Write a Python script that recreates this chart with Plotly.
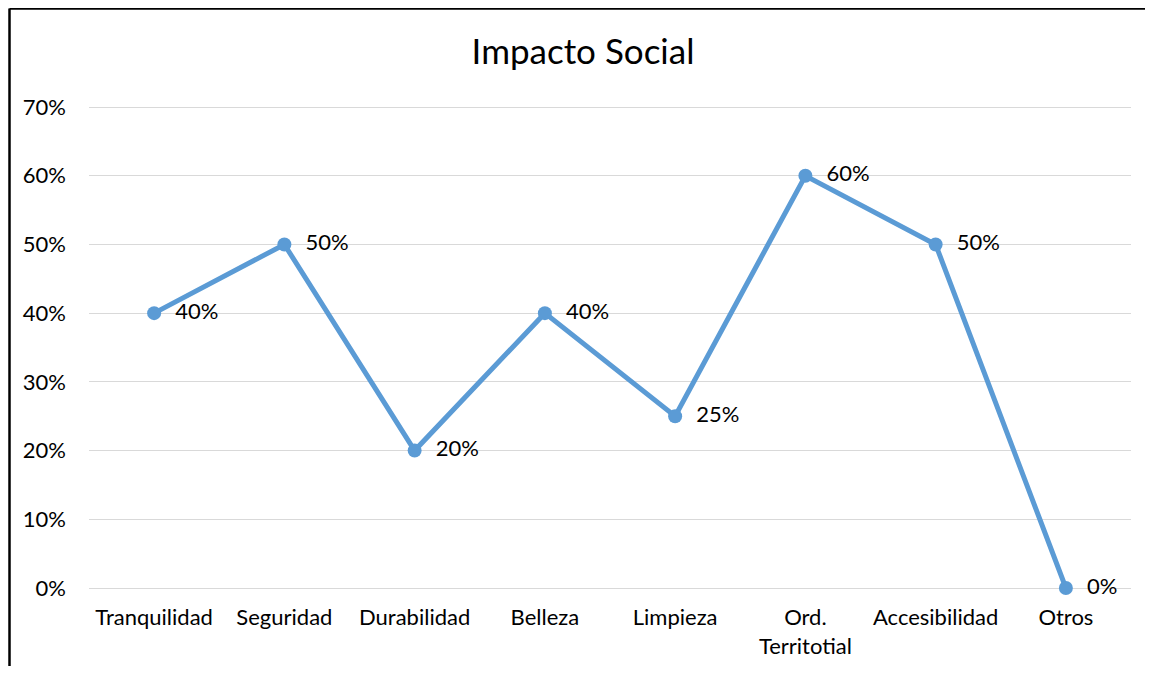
import plotly.graph_objects as go

categories = ["Tranquilidad", "Seguridad", "Durabilidad", "Belleza", "Limpieza",
              "Ord.<br>Territotial", "Accesibilidad", "Otros"]
values = [0.40, 0.50, 0.20, 0.40, 0.25, 0.60, 0.50, 0.0]
labels = ["40%", "50%", "20%", "40%", "25%", "60%", "50%", "0%"]
y_ticks = [0, 0.1, 0.2, 0.3, 0.4, 0.5, 0.6, 0.7]

# page body has an 8px margin; figure sized to fit the 1154x674 window
W, H = 1138, 658
ml, mr, mt, mb = 81, 15, 98, 78
pw, ph = W - ml - mr, H - mt - mb

color = "#5B9BD5"
font = "Lato, Carlito, Calibri, sans-serif"
fs = 22

fig = go.Figure()
fig.add_trace(go.Scatter(
    x=categories, y=values, mode="lines+markers+text",
    line=dict(color=color, width=5),
    marker=dict(color=color, size=14),
    text=["  " + t for t in labels], textposition="middle right",
    textfont=dict(family=font, size=fs, color="#000000"),
    cliponaxis=False, hoverinfo="skip", showlegend=False,
))

# border lines (left and top) of the chart container
x_left = (1.5 - ml) / pw
y_top = 1 + (mt - 0.5) / ph
y_bot = -(mb + 10) / ph
fig.add_shape(type="line", xref="paper", yref="paper", x0=x_left, x1=x_left,
              y0=y_bot, y1=y_top, line=dict(color="black", width=2.5))
fig.add_shape(type="line", xref="paper", yref="paper", x0=x_left, x1=1 + (mr - 1) / pw,
              y0=y_top, y1=y_top, line=dict(color="black", width=2.5))

fig.update_layout(
    width=W, height=H,
    margin=dict(l=ml, r=mr, t=mt, b=mb, autoexpand=False),
    paper_bgcolor="white", plot_bgcolor="white",
    title=dict(text="Impacto Social", x=575 / W, xref="container", xanchor="center",
               y=1 - 44 / H, yanchor="middle",
               font=dict(family=font, size=35, color="#000000")),
    font=dict(family=font, size=fs, color="#000000"),
    xaxis=dict(type="category", range=[-0.5, 7.5], showgrid=False, showline=False,
               zeroline=False, ticks="", ticklabelstandoff=14, automargin=False,
               tickfont=dict(family=font, size=fs, color="#000000")),
    yaxis=dict(range=[0, 0.7015], tickvals=y_ticks, tickformat=".0%", showgrid=True,
               gridcolor="#D9D9D9", gridwidth=1.3, zeroline=True, zerolinecolor="#D9D9D9",
               zerolinewidth=1.3, showline=False, ticks="", ticklabelstandoff=22,
               automargin=False,
               tickfont=dict(family=font, size=fs, color="#000000")),
)

fig.write_html("out.html")
